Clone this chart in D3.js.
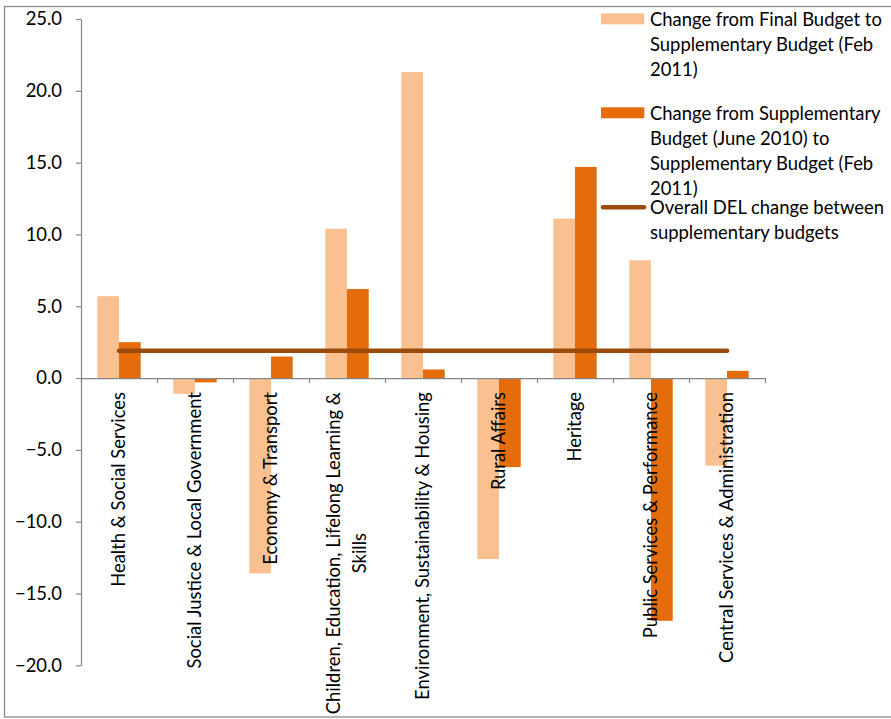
<!DOCTYPE html>
<html>
<head>
<meta charset="utf-8">
<script src="https://cdn.jsdelivr.net/npm/d3@7"></script>
<style>
  html, body { margin: 0; padding: 0; background: #ffffff; }
  svg { display: block; }
</style>
</head>
<body>
<svg id="chart" width="891" height="719"></svg>
<script>
// ---------------- data ----------------
const categories = [
  "Health & Social Services",
  "Social Justice & Local Government",
  "Economy & Transport",
  "Children, Education, Lifelong Learning & Skills",
  "Environment, Sustainability & Housing",
  "Rural Affairs",
  "Heritage",
  "Public Services & Performance",
  "Central Services & Administration"
];
const categoryLabelLines = [
  ["Health & Social Services"],
  ["Social Justice & Local Government"],
  ["Economy & Transport"],
  ["Children, Education, Lifelong Learning &", "Skills"],
  ["Environment, Sustainability & Housing"],
  ["Rural Affairs"],
  ["Heritage"],
  ["Public Services & Performance"],
  ["Central Services & Administration"]
];
const finalToFeb = [5.7, -1.1, -13.6, 10.4, 21.3, -12.6, 11.1, 8.2, -6.1];
const juneToFeb  = [2.5, -0.3, 1.5, 6.2, 0.6, -6.2, 14.7, -16.9, 0.5];
const overallDEL = [1.9, 1.9, 1.9, 1.9, 1.9, 1.9, 1.9, 1.9, 1.9];
const yTicks = [-20, -15, -10, -5, 0, 5, 10, 15, 20, 25];
const seriesNames = [
  "Change from Final Budget to Supplementary Budget (Feb 2011)",
  "Change from Supplementary Budget (June 2010) to Supplementary Budget (Feb 2011)",
  "Overall DEL change between supplementary budgets"
];
const legendLines = [
  ["Change from Final Budget to", "Supplementary Budget (Feb", "2011)"],
  ["Change from Supplementary", "Budget (June 2010) to", "Supplementary Budget (Feb", "2011)"],
  ["Overall DEL change between", "supplementary budgets"]
];

// ---------------- style ----------------
const colLight = "#FAC090";
const colDark = "#E46C0A";
const colLine = "#9A4A0A";
const axisCol = "#868686";
const fontFamily = "Lato, 'Open Sans', 'DejaVu Sans', sans-serif";

const svg = d3.select("#chart");

// fit font size to Calibri-like metrics (reference string ~232px at 20px Calibri)
const probe = svg.append("text").attr("font-family", fontFamily).attr("font-size", 20)
  .text("Change from Final Budget to");
const probeW = probe.node().getComputedTextLength();
probe.remove();
const fs = Math.max(15, Math.min(21, 20 * 232 / probeW));

// chart frame
svg.append("rect")
  .attr("x", 4.5).attr("y", 6.5).attr("width", 920).attr("height", 710.5)
  .attr("fill", "none").attr("stroke", "#8a8a8a").attr("stroke-width", 1.3);

// ---------------- scales ----------------
const x = d3.scaleBand().domain(categories).range([81, 765]).padding(0);
const xIdx = d3.scaleLinear().domain([0, categories.length]).range([81, 765]);
const xSeries = d3.scaleBand().domain([0, 1]).range([0, x.bandwidth()])
  .paddingInner(0).paddingOuter(0.75);
const y = d3.scaleLinear().domain([-20, 25]).range([665.3, 19]);

// ---------------- bars ----------------
const barData = [];
categories.forEach((c, i) => {
  barData.push({ c, s: 0, v: finalToFeb[i] });
  barData.push({ c, s: 1, v: juneToFeb[i] });
});
svg.append("g").selectAll("rect").data(barData).join("rect")
  .attr("x", d => x(d.c) + xSeries(d.s))
  .attr("width", xSeries.bandwidth())
  .attr("y", d => y(Math.max(0, d.v)))
  .attr("height", d => Math.abs(y(d.v) - y(0)))
  .attr("fill", d => d.s === 0 ? colLight : colDark);

// ---------------- axes ----------------
const yAxis = svg.append("g")
  .attr("transform", "translate(81,0)")
  .call(d3.axisLeft(y).tickValues(yTicks).tickFormat(d3.format(".1f"))
    .tickSize(5).tickSizeOuter(0).tickPadding(14));
yAxis.selectAll("path,line").attr("stroke", axisCol).attr("stroke-width", 1.2);
yAxis.selectAll("text").attr("font-family", fontFamily).attr("font-size", fs)
  .attr("fill", "#000");

const xAxis = svg.append("g")
  .attr("transform", `translate(0,${y(0)})`)
  .call(d3.axisBottom(xIdx).tickValues(d3.range(0, categories.length + 1))
    .tickFormat("").tickSize(5).tickSizeOuter(0));
xAxis.selectAll("path,line").attr("stroke", axisCol).attr("stroke-width", 1.2);

// category labels (rotated)
const lineGap = 26;
const labelTop = y(0) + 14;
const lblG = svg.append("g");
categoryLabelLines.forEach((lines, i) => {
  const cx = x(categories[i]) + x.bandwidth() / 2;
  const g = lblG.append("g").attr("transform", "rotate(-90)");
  const texts = lines.map((ln, j) => g.append("text")
    .attr("font-family", fontFamily).attr("font-size", fs).attr("fill", "#000")
    .attr("text-anchor", "middle")
    .attr("dy", "0.35em")
    .text(ln));
  const maxLen = d3.max(texts, t => t.node().getComputedTextLength());
  texts.forEach((t, j) => {
    t.attr("x", -(labelTop + maxLen / 2))
     .attr("y", cx + (j - (lines.length - 1) / 2) * lineGap);
  });
});

// ---------------- overall line ----------------
const lineGen = d3.line()
  .x((d, i) => x(categories[i]) + x.bandwidth() / 2)
  .y(d => y(d));
svg.append("path").datum(overallDEL)
  .attr("d", lineGen)
  .attr("fill", "none").attr("stroke", colLine)
  .attr("stroke-width", 4.5).attr("stroke-linecap", "round");

// ---------------- legend ----------------
const leg = svg.append("g").attr("font-family", fontFamily).attr("font-size", fs);
const legBaselines = [[26, 51, 76], [120, 145, 170, 195], [214, 239]];
legendLines.forEach((lines, k) => {
  const b0 = legBaselines[k][0];
  if (k < 2) {
    leg.append("rect").attr("x", 601).attr("y", b0 - 12.7).attr("width", 43.3).attr("height", 11)
      .attr("fill", k === 0 ? colLight : colDark);
  } else {
    leg.append("line").attr("x1", 603).attr("x2", 644).attr("y1", b0 - 6.7).attr("y2", b0 - 6.7)
      .attr("stroke", colLine).attr("stroke-width", 4.5).attr("stroke-linecap", "round");
  }
  lines.forEach((ln, j) => {
    leg.append("text").attr("x", 650).attr("y", legBaselines[k][j])
      .attr("fill", "#000").text(ln);
  });
});
</script>
</body>
</html>
